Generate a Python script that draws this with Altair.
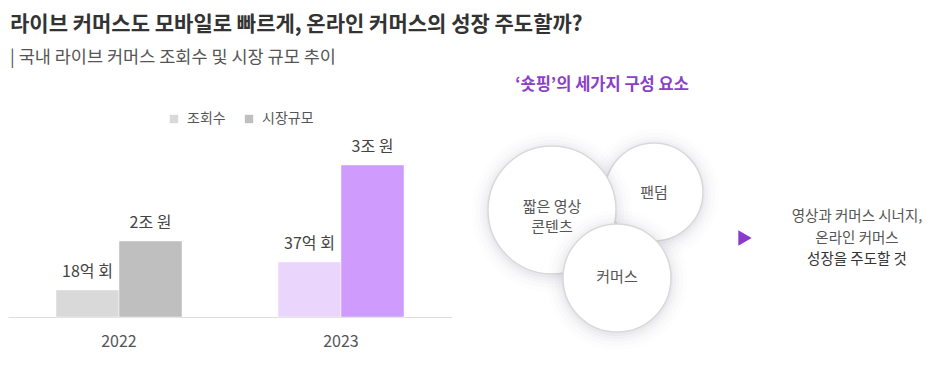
import altair as alt
import pandas as pd

# ---------------- data ----------------
years = ["2022", "2022", "2023", "2023"]
series = ["조회수", "시장규모", "조회수", "시장규모"]
bar_height = [27, 76, 55, 152]          # drawn bar heights
bar_labels = ["18억 회", "2조 원", "37억 회", "3조 원"]
bar_colors = ["#d9d9d9", "#bfbfbf", "#ead6fd", "#cf9cfd"]

title = "라이브 커머스도 모바일로 빠르게, 온라인 커머스의 성장 주도할까?"
subtitle = "| 국내 라이브 커머스 조회수 및 시장 규모 추이"
diagram_title = "‘숏핑’의 세가지 구성 요소"
elements = ["짧은 영상\n콘텐츠", "팬덤", "커머스"]
conclusion = ["영상과 커머스 시너지,", "온라인 커머스", "성장을 주도할 것"]

# ---------------- layout ----------------
FONT = "Noto Sans CJK KR"
W = 924          # plot width
T = 80           # plot top on the page (px)
H = 317 - T      # plot height -> baseline at page y 317
def px(x): return x - 8
def py(y): return y - T

circle_layout = [(552, 210, 64), (654, 192, 49), (617, 278, 54)]   # (cx, cy, r) page px
draw_order = [1, 0, 2]
label_layout = [(552, 207), (654, 193), (617, 277)]

keys = [f"{y}|{s}" for y, s in zip(years, series)]
bars_df = pd.DataFrame({"year": years, "series": series, "height": bar_height,
                        "label": bar_labels, "key": keys})

x_enc = alt.X("year:N", title=None,
              scale=alt.Scale(range=[0, 444], paddingInner=0.4324, paddingOuter=0.2162),
              axis=alt.Axis(labelAngle=0, ticks=False, domainColor="#dddddd", domainWidth=1,
                            labelFontSize=16, labelColor="#555555", labelPadding=16,
                            labelFont=FONT, grid=False))
xo_enc = alt.XOffset("series:N", sort=["조회수", "시장규모"],
                     scale=alt.Scale(paddingInner=0, paddingOuter=0))
y_enc = alt.Y("height:Q", scale=alt.Scale(domain=[0, H], nice=False), axis=None)

bars = alt.Chart(bars_df).mark_bar(stroke="white", strokeOpacity=0.45, strokeWidth=1).encode(
    x=x_enc, xOffset=xo_enc, y=y_enc,
    color=alt.Color("key:N", scale=alt.Scale(domain=keys, range=bar_colors),
                    legend=alt.Legend(values=keys[:2], labelExpr="split(datum.label, '|')[1]",
                                      orient="none", legendX=159, legendY=py(112),
                                      direction="horizontal", symbolType="square",
                                      symbolSize=70, symbolStrokeWidth=0, labelFontSize=14,
                                      labelColor="#555555", labelFont=FONT, columnPadding=16,
                                      labelOffset=6, title=None)),
)
bar_text = alt.Chart(bars_df).mark_text(baseline="bottom", dy=-10, fontSize=16,
                                        color="#444444", font=FONT).encode(
    x=x_enc, xOffset=xo_enc, y=y_enc, text="label:N")
bar_part = alt.layer(bars, bar_text)

# ---------------- diagram ----------------
dx = alt.X("x:Q", scale=alt.Scale(domain=[0, W], nice=False, zero=False), axis=None)
dy = alt.Y("y:Q", scale=alt.Scale(domain=[0, H], nice=False, zero=False, reverse=True), axis=None)

rows = []
z = 0
for i in draw_order:
    cx, cy, r = circle_layout[i]
    for extra, op in [(16, 0.014), (12, 0.02), (8, 0.028), (5, 0.036), (2, 0.05)]:
        rows.append(dict(x=px(cx), y=py(cy + 2), size=(2 * (r + extra)) ** 2, fill="#7d7d8a",
                         op=op, stroke="transparent", sw=0, z=z)); z += 1
    rows.append(dict(x=px(cx), y=py(cy), size=(2 * r) ** 2, fill="#ffffff", op=1,
                     stroke="#d9d9d9", sw=1.5, z=z)); z += 1
circ_df = pd.DataFrame(rows)
circles = alt.Chart(circ_df).mark_circle(opacity=1).encode(
    x=dx, y=dy,
    size=alt.Size("size:Q", scale=None),
    fill=alt.Fill("fill:N", scale=None),
    fillOpacity=alt.FillOpacity("op:Q", scale=None),
    stroke=alt.Stroke("stroke:N", scale=None),
    strokeWidth=alt.StrokeWidth("sw:Q", scale=None),
    order=alt.Order("z:Q"),
)

el_df = pd.DataFrame({"x": [px(p[0]) for p in label_layout],
                      "y": [py(p[1]) for p in label_layout], "t": elements})
el_text = alt.Chart(el_df).mark_text(fontSize=15, color="#555555", font=FONT,
                                     lineBreak="\n", lineHeight=20).encode(x=dx, y=dy, text="t:N")

head_df = pd.DataFrame({"x": [px(602)], "y": [py(85)], "t": [diagram_title]})
head = alt.Chart(head_df).mark_text(fontSize=16.5, fontWeight="bold", color="#8b3fc9",
                                    font=FONT).encode(x=dx, y=dy, text="t:N")

tri_df = pd.DataFrame({"x": [px(745)], "y": [py(238)]})
tri = alt.Chart(tri_df).mark_point(shape="triangle-right", filled=True, size=240,
                                   color="#8a3bcc", opacity=1).encode(x=dx, y=dy)

con_df = pd.DataFrame({"x": [px(857)] * 3, "y": [py(217), py(239), py(260)],
                       "t": conclusion, "c": ["#555555", "#555555", "#333333"]})
con = alt.Chart(con_df).mark_text(fontSize=14.5, font=FONT).encode(
    x=dx, y=dy, text="t:N", color=alt.Color("c:N", scale=None))

diagram_part = alt.layer(circles, el_text, head, tri, con)

chart = alt.layer(bar_part, diagram_part).resolve_scale(
    x="independent", y="independent", color="independent"
).properties(
    width=W, height=H, padding={"top": 5, "left": 0, "right": 0, "bottom": 0},
    title=alt.TitleParams(text=title, subtitle=subtitle, anchor="start", fontSize=21,
                          fontWeight="bold", color="#333333", font=FONT,
                          subtitleFont=FONT, subtitleFontSize=17.5, subtitleColor="#555555",
                          subtitlePadding=14, offset=11, dx=2),
).configure(font=FONT).configure_view(stroke=None)

chart.save("out.html", embed_options={"renderer": "svg", "actions": False})
